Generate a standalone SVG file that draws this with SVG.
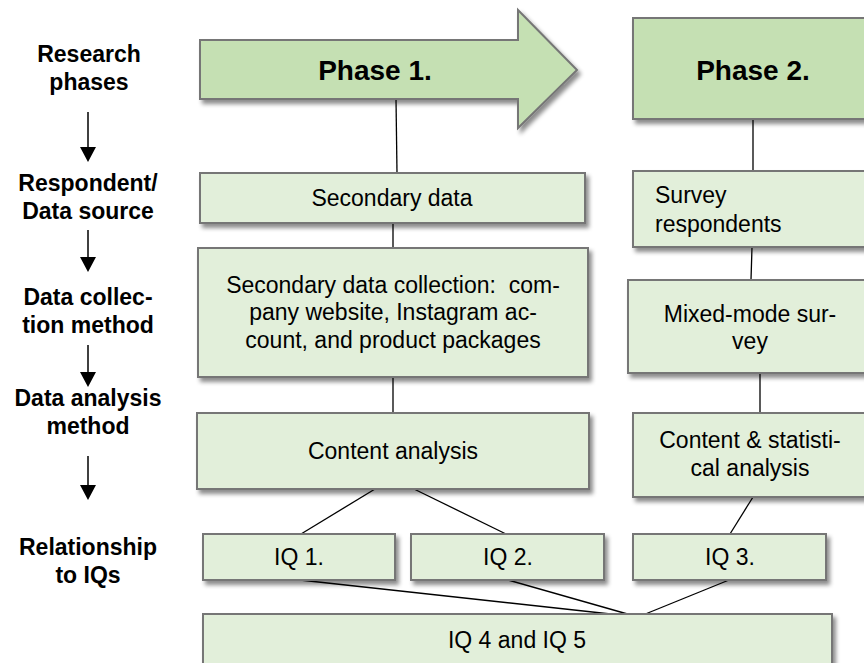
<svg xmlns="http://www.w3.org/2000/svg" width="864" height="663" viewBox="0 0 864 663">
<defs>
<filter id="sh" x="-10%" y="-20%" width="130%" height="160%">
<feDropShadow dx="3" dy="4" stdDeviation="2" flood-color="#000" flood-opacity="0.45"/>
</filter>
</defs>
<style>
.box{fill:#e2efda;stroke:#767676;stroke-width:2;filter:url(#sh)}
.ph{fill:#c5e0b3;stroke:#767676;stroke-width:2;filter:url(#sh)}
.t{font-family:"Liberation Sans",Arial,sans-serif;font-size:23px;fill:#000;text-anchor:middle;white-space:pre}
.tl{font-family:"Liberation Sans",Arial,sans-serif;font-size:23px;fill:#000}
.pt{font-family:"Liberation Sans",Arial,sans-serif;font-size:28px;font-weight:bold;fill:#000;text-anchor:middle}
.lb{font-family:"Liberation Sans",Arial,sans-serif;font-size:23px;font-weight:bold;fill:#000;text-anchor:middle}
.c{stroke:#000;stroke-width:1.3;fill:none}
.la{stroke:#000;stroke-width:1.5;fill:none}
.hd{fill:#000}
</style>

<g id="labels">
<text class="lb" x="89" y="62">Research</text>
<text class="lb" x="89" y="90">phases</text>
<text class="lb" x="88" y="191">Respondent/</text>
<text class="lb" x="88" y="219">Data source</text>
<text class="lb" x="88" y="305">Data collec-</text>
<text class="lb" x="88" y="333">tion method</text>
<text class="lb" x="88" y="406">Data analysis</text>
<text class="lb" x="88" y="434">method</text>
<text class="lb" x="88" y="555">Relationship</text>
<text class="lb" x="88" y="583">to IQs</text>
</g>

<g id="left-arrows">
<line class="la" x1="88" y1="112" x2="88" y2="148"/><path class="hd" d="M80,147 L96,147 L88,162 Z"/>
<line class="la" x1="88" y1="230" x2="88" y2="258"/><path class="hd" d="M80,257 L96,257 L88,272 Z"/>
<line class="la" x1="88" y1="345" x2="88" y2="373"/><path class="hd" d="M80,372 L96,372 L88,387 Z"/>
<line class="la" x1="88" y1="456" x2="88" y2="486"/><path class="hd" d="M80,485 L96,485 L88,500 Z"/>
</g>

<g id="connectors">
<line class="c" x1="396" y1="99" x2="397" y2="173"/>
<line class="c" x1="393" y1="223" x2="393" y2="248"/>
<line class="c" x1="393" y1="377" x2="393" y2="413"/>
<line class="c" x1="753" y1="119" x2="753" y2="171"/>
<line class="c" x1="752" y1="247" x2="751" y2="280"/>
<line class="c" x1="760" y1="373" x2="760" y2="413"/>
<line class="c" x1="375" y1="489" x2="301" y2="534"/>
<line class="c" x1="414" y1="489" x2="506" y2="534"/>
<line class="c" x1="753" y1="497" x2="730" y2="534"/>
<line class="c" x1="300" y1="580" x2="638" y2="617"/>
<line class="c" x1="508" y1="580" x2="638" y2="617"/>
<line class="c" x1="729" y1="580" x2="638" y2="617"/>
</g>

<g id="phase1">
<path class="ph" d="M200,40 L518,40 L518,10 L577,70 L518,128 L518,99 L200,99 Z"/>
<text class="pt" x="375" y="80">Phase 1.</text>
</g>
<g id="phase2">
<rect class="ph" x="633" y="18" width="240" height="101"/>
<text class="pt" x="753" y="80">Phase 2.</text>
</g>

<g id="secondary-data">
<rect class="box" x="200" y="173" width="385" height="50"/>
<text class="t" x="392" y="206">Secondary data</text>
</g>
<g id="data-collection">
<rect class="box" x="198" y="248" width="390" height="129"/>
<text class="t" x="393" y="293" xml:space="preserve">Secondary data collection:  com-</text>
<text class="t" x="393" y="320">pany website, Instagram ac-</text>
<text class="t" x="393" y="348">count, and product packages</text>
</g>
<g id="content-analysis">
<rect class="box" x="197" y="413" width="392" height="76"/>
<text class="t" x="393" y="459">Content analysis</text>
</g>
<g id="survey-respondents">
<rect class="box" x="633" y="171" width="240" height="76"/>
<text class="tl" x="655" y="203">Survey</text>
<text class="tl" x="655" y="232">respondents</text>
</g>
<g id="mixed-mode">
<rect class="box" x="628" y="280" width="245" height="93"/>
<text class="t" x="750" y="322">Mixed-mode sur-</text>
<text class="t" x="750" y="349">vey</text>
</g>
<g id="content-statistical">
<rect class="box" x="633" y="413" width="240" height="84"/>
<text class="t" x="750" y="448">Content &amp; statisti-</text>
<text class="t" x="750" y="476">cal analysis</text>
</g>
<g id="iq1">
<rect class="box" x="203" y="534" width="192" height="46"/>
<text class="t" x="299" y="565">IQ 1.</text>
</g>
<g id="iq2">
<rect class="box" x="411" y="534" width="193" height="46"/>
<text class="t" x="508" y="565">IQ 2.</text>
</g>
<g id="iq3">
<rect class="box" x="633" y="534" width="193" height="46"/>
<text class="t" x="730" y="565">IQ 3.</text>
</g>
<g id="iq45">
<rect class="box" x="203" y="614" width="629" height="60"/>
<text class="t" x="517" y="648">IQ 4 and IQ 5</text>
</g>
</svg>
